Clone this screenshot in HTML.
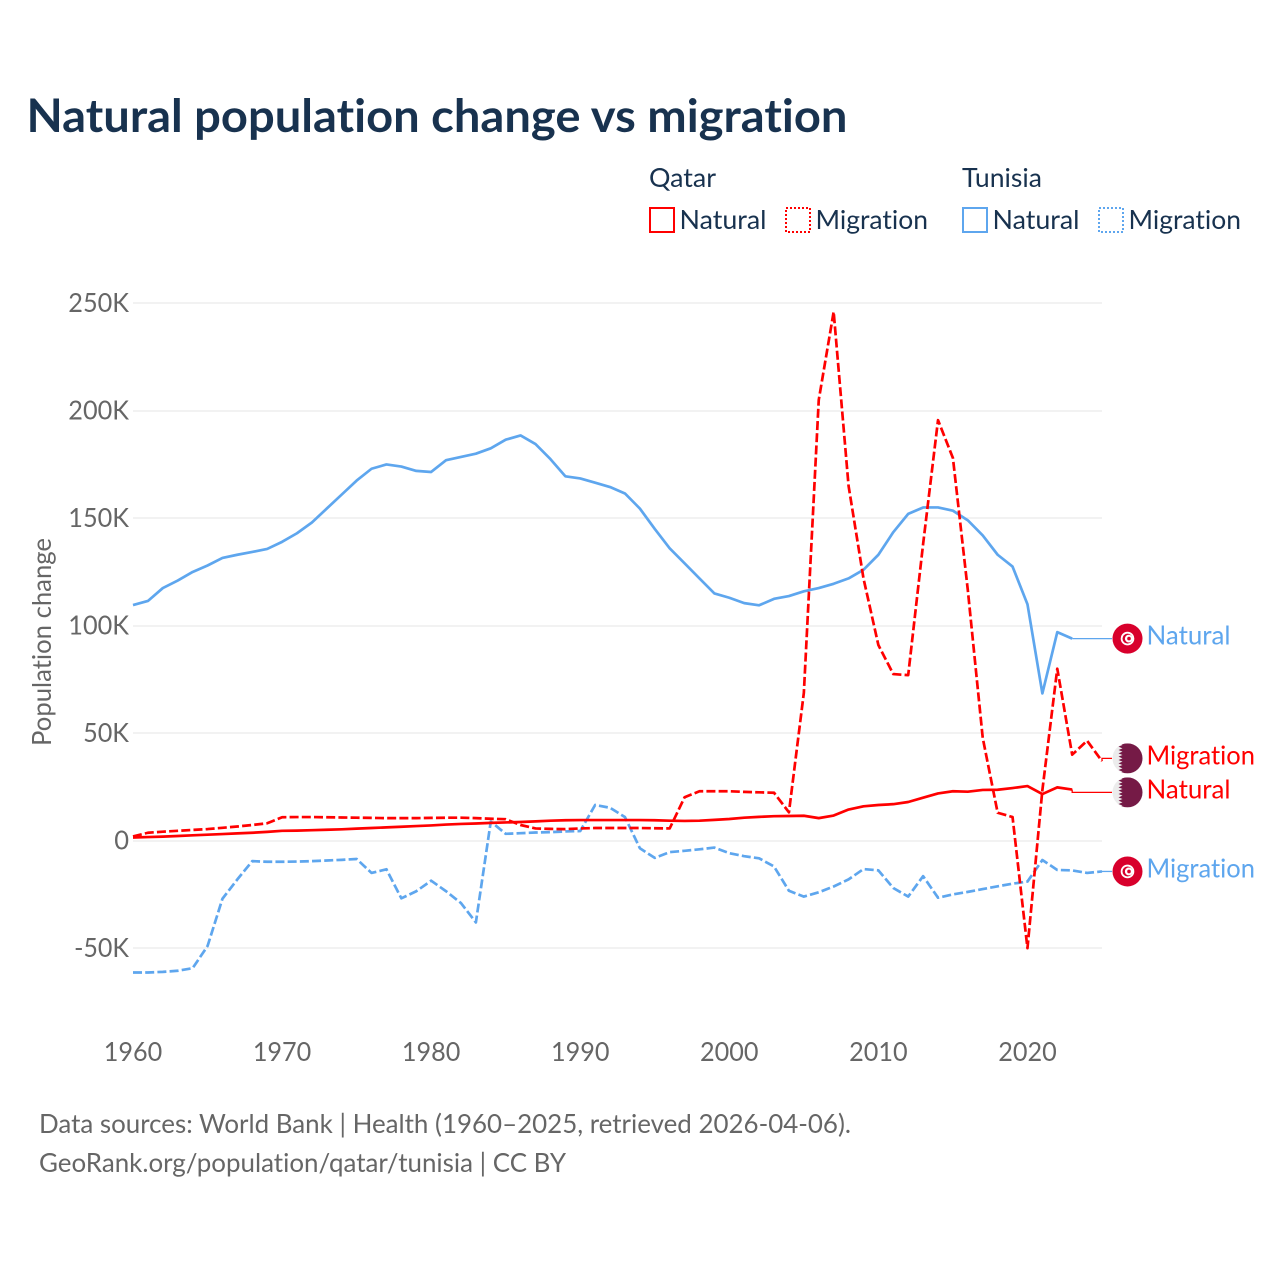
<!DOCTYPE html>
<html lang="en">
<head>
<meta charset="utf-8">
<title>Natural population change vs migration</title>
<style>
  html, body { margin: 0; padding: 0; background: #fff; }
  svg { display: block; font-family: "Lato", "Carlito", "Liberation Sans", sans-serif; font-variant-ligatures: none; font-feature-settings: "liga" 0, "clig" 0; }
</style>
</head>
<body>
<svg id="chart" xmlns="http://www.w3.org/2000/svg" width="1280" height="1280" viewBox="0 0 1280 1280">
  <rect x="0" y="0" width="1280" height="1280" fill="#ffffff"/>
  <text x="26.5" y="132" font-size="46" font-weight="700" fill="#18324f" textLength="821" lengthAdjust="spacingAndGlyphs">Natural population change vs migration</text>

  <g font-size="26" fill="#18324f">
    <text x="649" y="187" textLength="67" lengthAdjust="spacingAndGlyphs">Qatar</text>
    <text x="962" y="187" textLength="80" lengthAdjust="spacingAndGlyphs">Tunisia</text>
    <g>
      <rect x="650" y="208" width="24" height="24" fill="none" stroke="#ff0000" stroke-width="2"/>
      <text x="679.5" y="229" textLength="87" lengthAdjust="spacingAndGlyphs">Natural</text>
    </g>
    <g>
      <rect x="786" y="208" width="24" height="24" fill="none" stroke="#ff0000" stroke-width="2" stroke-dasharray="2,2"/>
      <text x="815.5" y="229" textLength="112.5" lengthAdjust="spacingAndGlyphs">Migration</text>
    </g>
    <g>
      <rect x="963" y="208" width="24" height="24" fill="none" stroke="#5ea6ee" stroke-width="2"/>
      <text x="992.5" y="229" textLength="87" lengthAdjust="spacingAndGlyphs">Natural</text>
    </g>
    <g>
      <rect x="1099" y="208" width="24" height="24" fill="none" stroke="#5ea6ee" stroke-width="2" stroke-dasharray="2,2"/>
      <text x="1128.5" y="229" textLength="112.5" lengthAdjust="spacingAndGlyphs">Migration</text>
    </g>
  </g>

  <text transform="translate(51,642) rotate(-90)" text-anchor="middle" font-size="26" fill="#666666" textLength="208" lengthAdjust="spacingAndGlyphs">Population change</text>

  <g id="grid"></g>
  <g id="yticks"></g>
  <g id="xticks"></g>
  <g id="series"></g>
  <g id="labels"></g>

  <text x="39" y="1133" font-size="26" fill="#666666" textLength="812" lengthAdjust="spacingAndGlyphs">Data sources: World Bank | Health (1960–2025, retrieved 2026-04-06).</text>
  <text x="39" y="1172" font-size="26" fill="#666666" textLength="527" lengthAdjust="spacingAndGlyphs">GeoRank.org/population/qatar/tunisia | CC BY</text>
</svg>

<script>
// Values are in thousands of people, one per year starting in startYear.
const startYear = 1960;
const xTickYears = [1960, 1970, 1980, 1990, 2000, 2010, 2020];
const yTickValues = [-50, 0, 50, 100, 150, 200, 250];
const yTickLabels = ["-50K", "0", "50K", "100K", "150K", "200K", "250K"];

const tunisiaNatural = [109.6, 111.5, 117.5, 121, 125, 128, 131.5, 133, 134.3, 135.7,
  139, 143, 148, 154.5, 161, 167.5, 173, 175, 174, 172,
  171.5, 177, 178.5, 180, 182.5, 186.5, 188.5, 184.5, 177.5, 169.5,
  168.5, 166.5, 164.5, 161.5, 154.5, 145, 136, 129, 122, 115,
  113, 110.5, 109.5, 112.5, 113.8, 116, 117.5, 119.5, 122, 126,
  133, 143.5, 152, 155, 155, 153.5, 149, 142, 133, 127.5,
  110, 68.5, 97, 94];

const tunisiaMigration = [-61.3, -61.3, -61, -60.5, -59.3, -49, -27, -18, -9.5, -9.8,
  -9.8, -9.7, -9.5, -9.2, -8.9, -8.5, -15, -13.3, -26.8, -23.5,
  -18.6, -23.5, -29, -38, 8.9, 3.2, 3.5, 3.8, 4, 4.3,
  4.5, 16.6, 15.3, 11, -3.5, -8, -5.3, -4.7, -4, -3.2,
  -5.8, -7.2, -8.2, -12, -23.3, -26, -24, -21.3, -18, -13.2,
  -13.8, -22, -26, -16.5, -26.5, -25, -23.8, -22.5, -21.2, -20,
  -19, -9, -13.6, -13.8, -15, -14.3];

const qatarNatural = [1.5, 1.7, 1.9, 2.2, 2.5, 2.8, 3.1, 3.4, 3.7, 4.1,
  4.6, 4.7, 4.9, 5.1, 5.3, 5.6, 5.9, 6.2, 6.5, 6.8,
  7.1, 7.5, 7.8, 8, 8.3, 8.5, 8.7, 9, 9.3, 9.5,
  9.6, 9.6, 9.6, 9.6, 9.6, 9.5, 9.3, 9.2, 9.3, 9.7,
  10.1, 10.7, 11.1, 11.4, 11.5, 11.6, 10.5, 11.7, 14.5, 16,
  16.6, 17, 18, 20, 22, 23, 22.8, 23.6, 23.7, 24.5,
  25.4, 21.7, 24.8, 23.8];

const qatarMigration = [2, 3.7, 4.2, 4.6, 5, 5.4, 6, 6.6, 7.3, 8.1,
  10.9, 11, 11, 10.9, 10.8, 10.7, 10.6, 10.5, 10.5, 10.5,
  10.6, 10.7, 10.7, 10.5, 10.2, 10, 7.3, 5.7, 5.5, 5.4,
  5.7, 5.9, 5.9, 5.9, 5.9, 5.8, 5.7, 20.2, 23, 23,
  23, 22.7, 22.5, 22.3, 13.2, 68.8, 205, 246, 165, 122,
  91, 77.5, 77, 138, 195.6, 178, 116.5, 47.8, 13, 11,
  -50, 23.5, 80, 40, 46.5, 37];

const RED = "#ff0000";
const BLUE = "#5ea6ee";
const NS = "http://www.w3.org/2000/svg";

const plotLeft = 133, plotRight = 1102, yearMax = 2025;
const zeroY = 840.7, pxPerK = 2.15;
function xScale(year) { return plotLeft + (year - startYear) * (plotRight - plotLeft) / (yearMax - startYear); }
function yScale(v) { return zeroY - v * pxPerK; }

function make(tag, attrs, parent, text) {
  const el = document.createElementNS(NS, tag);
  for (const k in attrs) el.setAttribute(k, attrs[k]);
  if (text !== undefined) el.textContent = text;
  parent.appendChild(el);
  return el;
}
function tickWidth(s) {
  let w = 0;
  for (const c of s) w += c === "K" ? 16.3 : c === "-" ? 9 : 14.8;
  return w;
}

const grid = document.getElementById("grid");
const yticks = document.getElementById("yticks");
const xticks = document.getElementById("xticks");
yTickValues.forEach(function (v, i) {
  const y = Math.round(yScale(v));
  const line = make("line", { x1: plotLeft, x2: plotRight, y1: y, y2: y, stroke: "#e5e5e5", "stroke-width": 1 }, grid);
  
  
  const t = make("text", { x: 129, y: yScale(v) + 9, "text-anchor": "end", "font-size": 26, fill: "#666666",
    textLength: tickWidth(yTickLabels[i]), lengthAdjust: "spacingAndGlyphs" }, yticks, yTickLabels[i]);
  
  
});
xTickYears.forEach(function (yr) {
  const t = make("text", { x: xScale(yr), y: 1061, "text-anchor": "middle", "font-size": 26, fill: "#666666",
    textLength: 58.5, lengthAdjust: "spacingAndGlyphs" }, xticks, String(yr));
  
  
});

const seriesGroup = document.getElementById("series");
function drawSeries(values, color, dashed, name) {
  const pts = values.map(function (v, i) { return xScale(startYear + i).toFixed(2) + "," + yScale(v).toFixed(2); }).join(" ");
  const attrs = { points: pts, fill: "none", stroke: color, "stroke-width": 2.7, "stroke-linejoin": "round" };
  if (dashed) attrs["stroke-dasharray"] = "9,3.2";
  const line = make("polyline", attrs, seriesGroup);
  
  
}
drawSeries(tunisiaMigration, BLUE, true, "line-tunisia-migration");
drawSeries(tunisiaNatural, BLUE, false, "line-tunisia-natural");
drawSeries(qatarNatural, RED, false, "line-qatar-natural");
drawSeries(qatarMigration, RED, true, "line-qatar-migration");

// End-of-line labels, pushed apart when they would collide.
const labelItems = [
  { values: tunisiaNatural, color: BLUE, text: "Natural", flag: "tunisia", width: 84 },
  { values: qatarMigration, color: RED, text: "Migration", flag: "qatar", width: 108.5 },
  { values: qatarNatural, color: RED, text: "Natural", flag: "qatar", width: 84 },
  { values: tunisiaMigration, color: BLUE, text: "Migration", flag: "tunisia", width: 108.5 }
];
labelItems.forEach(function (it) {
  it.lastX = xScale(startYear + it.values.length - 1);
  it.lastY = yScale(it.values[it.values.length - 1]);
  it.labelY = it.lastY;
});
const minGap = 34;
for (let i = 0; i < labelItems.length - 1; i++) {
  const a = labelItems[i], b = labelItems[i + 1];
  if (b.labelY - a.labelY < minGap) {
    const mid = (a.labelY + b.labelY) / 2;
    a.labelY = mid - minGap / 2;
    b.labelY = mid + minGap / 2;
  }
}

const labelsGroup = document.getElementById("labels");
function drawTunisiaFlag(parent, cx, cy) {
  make("circle", { cx: cx, cy: cy, r: 15, fill: "#d8002c" }, parent);
  make("circle", { cx: cx, cy: cy, r: 6.8, fill: "#ffffff" }, parent);
  make("circle", { cx: cx, cy: cy, r: 5, fill: "#d8002c" }, parent);
  make("circle", { cx: cx + 1.3, cy: cy, r: 3.9, fill: "#ffffff" }, parent);
  make("circle", { cx: cx + 1.5, cy: cy, r: 1.8, fill: "#d8002c" }, parent);
}
function drawQatarFlag(parent, cx, cy) {
  make("circle", { cx: cx, cy: cy, r: 15, fill: "#ececec" }, parent);
  const teeth = 9;
  const clipId = "qatar-clip-" + Math.round(cy);
  const cp = make("clipPath", { id: clipId }, parent);
  make("circle", { cx: cx, cy: cy, r: 15 }, cp);
  let z = "M " + (cx - 9) + " " + (cy - 15);
  for (let i = 0; i < teeth; i++) {
    z += " L " + (cx - 5) + " " + (cy - 15 + (30 / teeth) * (i + 0.5)) + " L " + (cx - 9) + " " + (cy - 15 + (30 / teeth) * (i + 1));
  }
  z += " L " + (cx + 16) + " " + (cy + 15) + " L " + (cx + 16) + " " + (cy - 15) + " Z";
  make("path", { d: z, fill: "#751a46", "clip-path": "url(#" + clipId + ")" }, parent);
}
labelItems.forEach(function (it) {
  const g = make("g", {}, labelsGroup);
  
  
  const conn = make("polyline", {
    points: it.lastX + "," + it.lastY + " " + it.lastX + "," + it.labelY + " 1112," + it.labelY,
    fill: "none", stroke: it.color, "stroke-width": 1.3 }, g);
  
  
  const flag = make("g", {}, g);
  
  
  if (it.flag === "tunisia") drawTunisiaFlag(flag, 1127.5, it.labelY);
  else drawQatarFlag(flag, 1127.5, it.labelY);
  const t = make("text", { x: 1146.5, y: it.labelY + 6, "font-size": 26, fill: it.color,
    textLength: it.width, lengthAdjust: "spacingAndGlyphs" }, g, it.text);
  
  
});
</script>
</body>
</html>
